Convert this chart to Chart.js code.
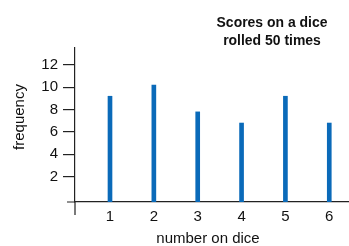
<!DOCTYPE html>
<html><head><meta charset="utf-8">
<script src="https://cdn.jsdelivr.net/npm/chart.js@4/dist/chart.umd.min.js"></script>
<style>html,body{margin:0;padding:0;background:#fff}#wrap{width:349px;height:246px}</style>
</head><body><div id="wrap"><canvas id="c"></canvas></div>
<script>
const faces = [1, 2, 3, 4, 5, 6];
const frequency = [9.2, 10.2, 7.8, 6.8, 9.2, 6.8];
const yTicks = [2, 4, 6, 8, 10, 12];
const titleLines = ['Scores on a dice', 'rolled 50 times'];
const xTitle = 'number on dice';
const yTitle = 'frequency';

const FONT = "'Liberation Sans', Arial, sans-serif";
const Y_MIN = -0.27, Y_MAX = 13.52, Y_EXT = -1.43;
const X_MIN = 0.202, X_MAX = 6.45, X_EXT = 0.02;

const plugin = {
  id: 'extras',
  afterDraw(chart) {
    const ctx = chart.ctx, xs = chart.scales.x, ys = chart.scales.y;
    ctx.save();
    ctx.strokeStyle = '#222';
    ctx.lineWidth = 1.2;
    const x0 = xs.getPixelForValue(X_MIN), y0 = ys.getPixelForValue(Y_MIN);
    ctx.beginPath();
    ctx.moveTo(xs.getPixelForValue(X_EXT), y0); ctx.lineTo(x0, y0);
    ctx.moveTo(x0, y0); ctx.lineTo(x0, ys.getPixelForValue(Y_EXT));
    ctx.stroke();
    ctx.fillStyle = '#111';
    ctx.textAlign = 'center';
    ctx.textBaseline = 'middle';
    ctx.save();
    ctx.translate(272, 0);
    ctx.scale(0.9, 1);
    ctx.font = "bold 15.5px " + FONT;
    ctx.fillText(titleLines[0], 0, 23);
    ctx.fillText(titleLines[1], 0, 41);
    ctx.restore();
    ctx.font = "15px " + FONT;
    ctx.fillText(xTitle, 208, 239);
    ctx.translate(20, 117);
    ctx.rotate(-Math.PI / 2);
    ctx.fillText(yTitle, 0, 0);
    ctx.restore();
  }
};

new Chart(document.getElementById('c'), {
  type: 'bar',
  data: {
    datasets: [{
      data: faces.map((f, i) => ({x: f, y: frequency[i]})),
      backgroundColor: '#0a6ab9',
      barThickness: 4,
      base: Y_MIN
    }]
  },
  options: {
    responsive: true,
    maintainAspectRatio: false,
    animation: false,
    layout: {padding: {left: 0, top: 48, right: 0, bottom: 0}},
    plugins: {legend: {display: false}, tooltip: {enabled: false}, title: {display: false}},
    scales: {
      x: {
        type: 'linear',
        offset: false,
        min: X_MIN, max: X_MAX,
        afterBuildTicks: (s) => { s.ticks = faces.map(v => ({value: v})); },
        afterFit: (s) => { s.height = 44; },
        grid: {drawOnChartArea: false, drawTicks: false, offset: false},
        border: {display: true, color: '#222', width: 1.2},
        ticks: {color: '#111', font: {family: FONT, size: 15}, padding: 6, maxRotation: 0, callback: v => String(v)}
      },
      y: {
        type: 'linear',
        min: Y_MIN, max: Y_MAX,
        afterBuildTicks: (s) => { s.ticks = yTicks.map(v => ({value: v})); },
        afterFit: (s) => { s.width = 75; },
        grid: {drawOnChartArea: false, drawTicks: true, tickLength: 12, color: '#222', lineWidth: 1.2},
        border: {display: true, color: '#222', width: 1.2},
        ticks: {color: '#111', font: {family: FONT, size: 15}, padding: 5, callback: v => String(v)}
      }
    }
  },
  plugins: [plugin]
});
</script></body></html>
